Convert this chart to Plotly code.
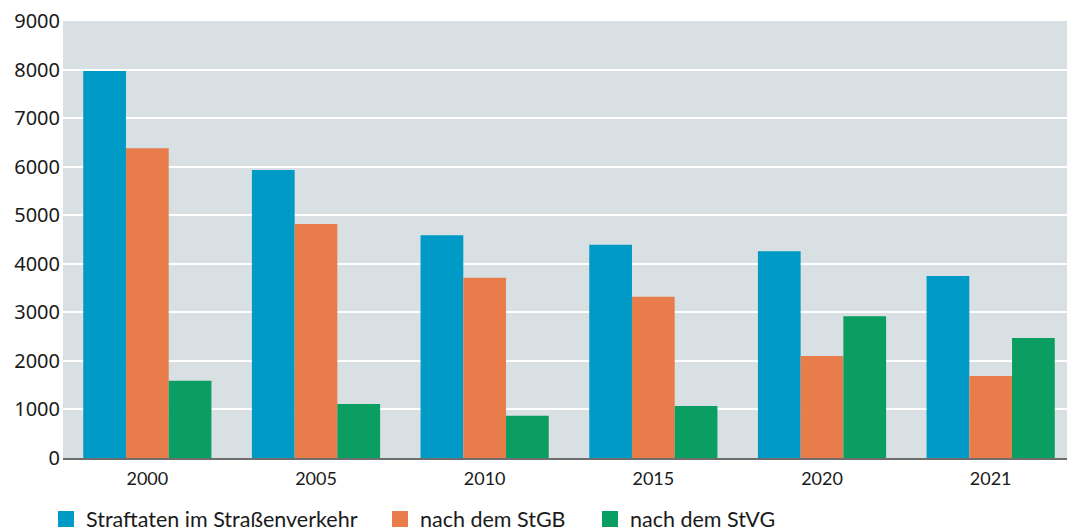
import plotly.graph_objects as go

years = ["2000", "2005", "2010", "2015", "2020", "2021"]
straftaten = [7970, 5930, 4590, 4390, 4260, 3750]
stgb = [6380, 4820, 3710, 3320, 2100, 1690]
stvg = [1590, 1110, 870, 1070, 2920, 2470]

names = ["Straftaten im Straßenverkehr", "nach dem StGB", "nach dem StVG"]
colors = ["#009ac7", "#e87c4a", "#0a9e63"]
legend_ids = ["legend", "legend2", "legend3"]

fig = go.Figure()
for name, vals, col, lid in zip(names, [straftaten, stgb, stvg], colors, legend_ids):
    fig.add_trace(go.Bar(x=years, y=vals, name=name, showlegend=False,
                         marker=dict(color=col, line=dict(width=0))))
    # legend entry with a larger square symbol
    fig.add_trace(go.Scatter(x=[None], y=[None], mode="markers", name=name, legend=lid,
                             marker=dict(symbol="square", size=18, color=col),
                             hoverinfo="skip"))

W, H = 1067, 524  # page body has an 8px margin
legfont = dict(family="Lato", size=21.5, color="#1a1a1a")
def leg(px):
    return dict(orientation="h", x=(px - 8) / W, xref="container", xanchor="left",
                y=13 / H, yref="container", yanchor="middle", font=legfont,
                itemclick=False, bgcolor="rgba(0,0,0,0)")

fig.update_layout(
    width=W, height=H,
    margin=dict(l=55, r=0, t=13, b=74, autoexpand=False),
    paper_bgcolor="white",
    plot_bgcolor="#d8e0e3",
    barmode="group", bargap=0.24, bargroupgap=0,
    font=dict(family="Lato", size=19, color="#1a1a1a"),
    legend=leg(46), legend2=leg(380), legend3=leg(590),
    showlegend=True,
)
fig.update_xaxes(type="category", showgrid=False, showline=True, linecolor="#6e6e6e", linewidth=2,
                 ticks="", automargin=False, ticklabelstandoff=3,
                 tickfont=dict(family="Lato", size=18, color="#1a1a1a"))
fig.update_yaxes(range=[0, 9000], dtick=1000, showgrid=True, gridcolor="white", gridwidth=2,
                 zeroline=False, ticks="", tickformat="d", automargin=False, ticklabelstandoff=2,
                 ticklabeloverflow="allow",
                 tickfont=dict(family="Noto Sans", size=20, color="#1a1a1a"))

fig.write_html("out.html")
